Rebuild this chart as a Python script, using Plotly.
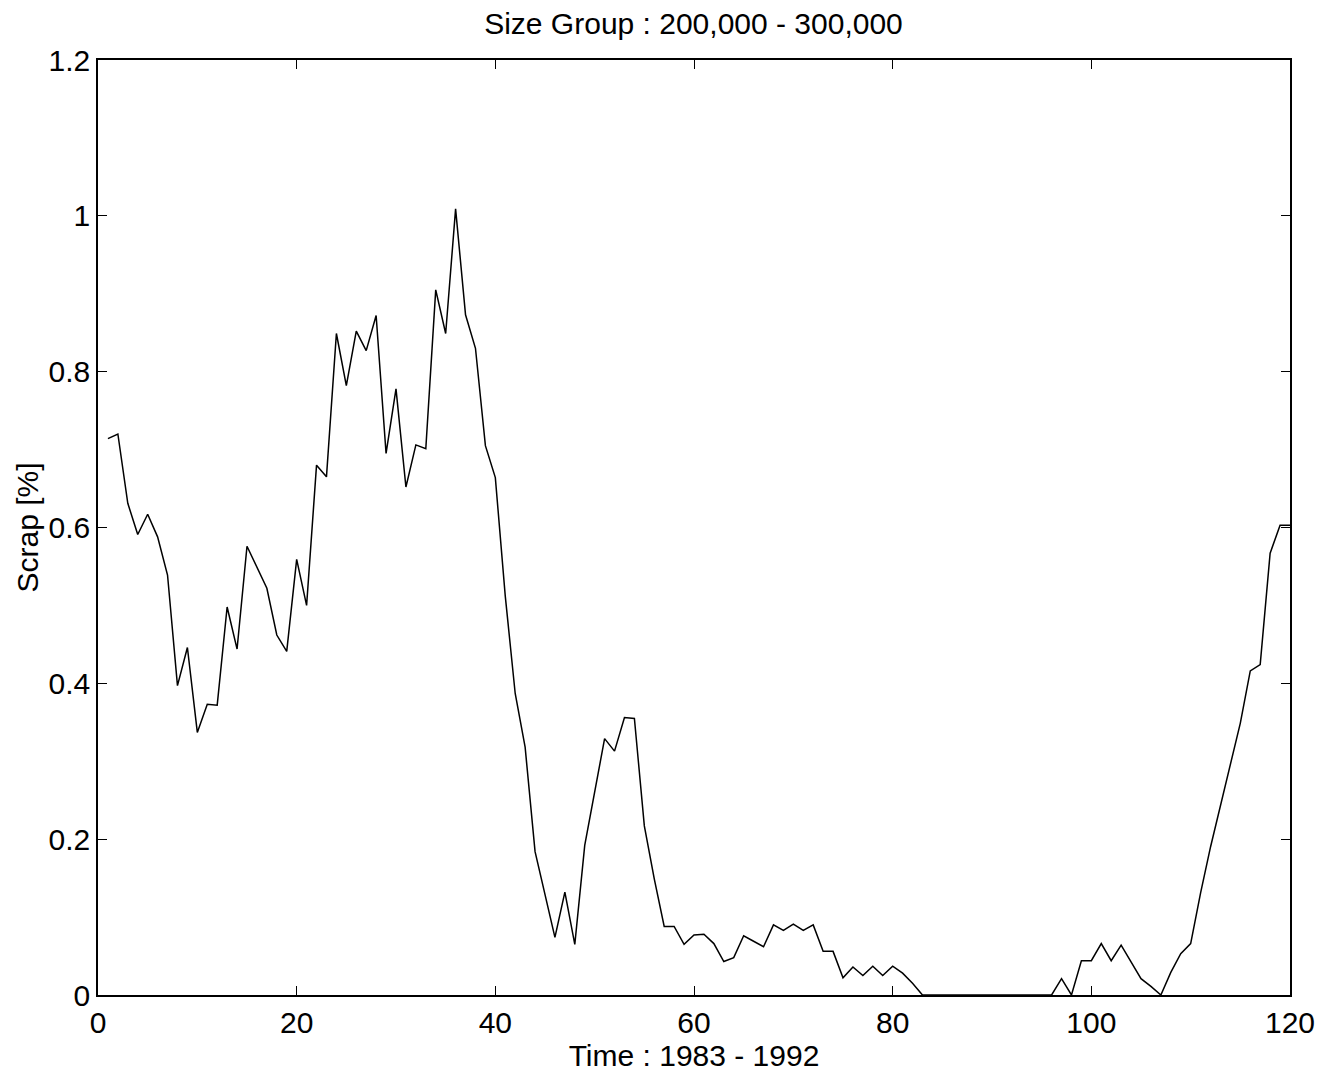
import plotly.graph_objects as go

time_idx = list(range(1, 121))
scrap = [
    0.714, 0.720, 0.631, 0.591, 0.617, 0.588, 0.539, 0.397, 0.446, 0.337,
    0.373, 0.372, 0.498, 0.444, 0.576, 0.550, 0.522, 0.462, 0.441, 0.559,
    0.500, 0.680, 0.665, 0.849, 0.782, 0.852, 0.827, 0.872, 0.695, 0.778,
    0.652, 0.706, 0.701, 0.905, 0.849, 1.009, 0.873, 0.830, 0.705, 0.664,
    0.512, 0.387, 0.318, 0.184, 0.129, 0.074, 0.132, 0.065, 0.192, 0.260,
    0.329, 0.313, 0.356, 0.355, 0.217, 0.149, 0.088, 0.088, 0.065, 0.077,
    0.078, 0.066, 0.043, 0.048, 0.076, 0.069, 0.062, 0.090, 0.083, 0.091,
    0.083, 0.090, 0.056, 0.056, 0.022, 0.036, 0.025, 0.037, 0.025, 0.037,
    0.028, 0.015, 0.000, 0.000, 0.000, 0.000, 0.000, 0.000, 0.000, 0.000,
    0.000, 0.000, 0.000, 0.000, 0.000, 0.000, 0.021, 0.000, 0.044, 0.044,
    0.066, 0.044, 0.064, 0.042, 0.021, 0.011, 0.000, 0.029, 0.053, 0.066,
    0.131, 0.190, 0.244, 0.297, 0.349, 0.416, 0.424, 0.567, 0.603, 0.603,
]

title_text = "Size Group : 200,000 - 300,000"
x_title = "Time : 1983 - 1992"
y_title = "Scrap [%]"
x_ticks = [0, 20, 40, 60, 80, 100, 120]
y_ticks = [0, 0.2, 0.4, 0.6, 0.8, 1.0, 1.2]

FONT = "Liberation Sans, Arial, Helvetica, sans-serif"
FS = 30

fig = go.Figure()
fig.add_trace(go.Scatter(
    x=time_idx, y=scrap, mode="lines",
    line=dict(color="black", width=1.5),
    showlegend=False,
))

axis_common = dict(
    showline=True, linecolor="black", linewidth=1.5,
    mirror="ticks", ticks="inside", ticklen=9, tickwidth=1.2, tickcolor="black",
    showgrid=False, zeroline=False,
    tickfont=dict(family=FONT, size=FS, color="black"),
)

fig.update_layout(
    width=1326, height=1076,
    paper_bgcolor="white", plot_bgcolor="white",
    margin=dict(l=98, r=36, t=60, b=81),
    title=dict(text=title_text, x=0.523, xanchor="center", y=0.978, yanchor="middle",
               font=dict(family=FONT, size=FS, color="black")),
    xaxis=dict(range=[0, 120], tickvals=x_ticks,
               title=dict(text=x_title, standoff=2,
                          font=dict(family=FONT, size=FS, color="black")),
               **axis_common),
    yaxis=dict(range=[0, 1.2], tickvals=y_ticks, **axis_common),
    annotations=[dict(
        text=y_title, textangle=-90, xref="paper", yref="paper",
        x=(27 - 98) / 1192, y=0.5, xanchor="center", yanchor="middle",
        showarrow=False, font=dict(family=FONT, size=FS, color="black"),
    )],
)

fig.write_html("out.html")
